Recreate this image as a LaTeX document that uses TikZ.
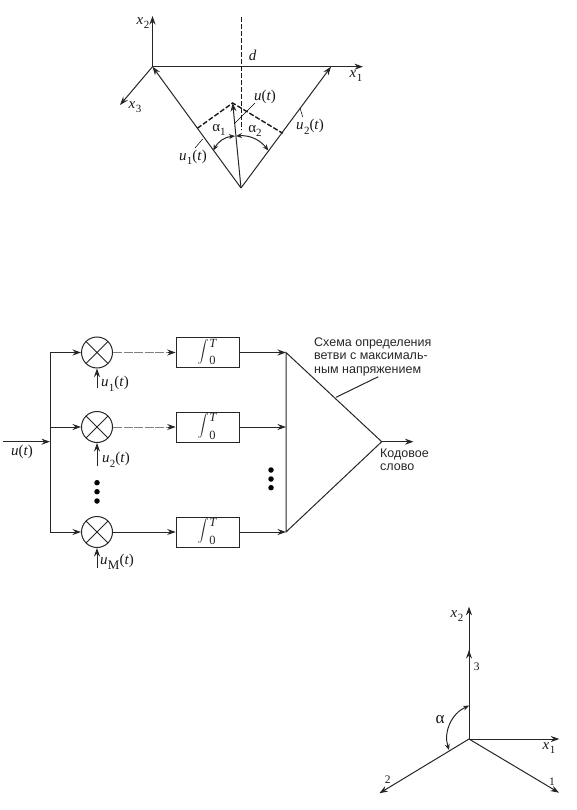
\documentclass[tikz,border=0pt]{standalone}
\usepackage{fontspec}
\setmainfont{Liberation Serif}
\newfontfamily\ruslabel{Liberation Sans}
\usetikzlibrary{arrows.meta,calc}
\newcommand{\subsz}{\fontsize{11}{12}\selectfont}
\newcommand{\symb}[2]{\textit{#1}\kern0.03em\raisebox{-0.3em}{\subsz #2}}
\newcommand{\intsym}{\smash{\fontsize{12.5}{14}\selectfont\raisebox{-2.7pt}{\scalebox{1.12}{$\displaystyle\int$}}\kern0.5pt\rlap{\raisebox{5.5pt}{\textit{T}}}\raisebox{-12pt}{0}\kern2pt}}
\tikzset{
  x=1pt,y=-1pt,
  line/.style={line width=1pt,black!85},
  arr/.style={line,-{Stealth[length=8.5pt,width=6pt]}},
  thinline/.style={line width=0.5pt,black!50,dash pattern=on 9pt off 1.5pt},
  dash2/.style={line width=1.4pt,black!90,dash pattern=on 5pt off 2pt},
  twoarr/.style={line,{Stealth[length=6pt,width=5pt]}-{Stealth[length=6pt,width=5pt]}},
  lab/.style={inner sep=0pt,font=\fontsize{15}{17}\selectfont,black!90},
  num/.style={inner sep=0pt,font=\fontsize{11.5}{13}\selectfont,black!90},
  rus/.style={inner sep=0pt,anchor=base west,font=\ruslabel\fontsize{12.5}{14}\selectfont,black!85},
  mixer/.style={circle,draw,line width=1pt,black!85,minimum size=31pt,inner sep=0pt,
    path picture={\draw[line width=0.8pt,black!85]
      (path picture bounding box.north west)--(path picture bounding box.south east)
      (path picture bounding box.north east)--(path picture bounding box.south west);}},
  intbox/.style={draw,line width=1pt,black!85,minimum width=63pt,minimum height=30pt,inner sep=0pt,fill=white},
  bigdot/.style={circle,fill=black,minimum size=5.5pt,inner sep=0pt},
}
\begin{document}
\begin{tikzpicture}
\useasboundingbox (0,0) rectangle (576,810);
% ---- top figure
\coordinate (O) at (152.5,66.7);
\coordinate (x2t) at (152.5,16);
\coordinate (x1t) at (363,66.7);
\coordinate (x3t) at (120,105);
\coordinate (A) at (241,188);
\coordinate (U2) at (331,66.7);
\coordinate (Ut) at (232.7,103);
\coordinate (dt) at (241.7,17);
\coordinate (db) at (241.7,130);
\coordinate (P1) at (197.3,128.3);
\coordinate (P2) at (282.7,133.3);
\coordinate (a1a) at (213.3,150.5);
\coordinate (a1b) at (235,136);
\coordinate (a2a) at (268.3,150.5);
\coordinate (a2b) at (236,136);
\draw[arr] (O)--(x2t);
\draw[arr] (O)--(x1t);
\draw[arr] (O)--(x3t);
\draw[arr] (A)--(O);
\draw[arr] (A)--(U2);
\draw[arr] (A)--(Ut);
\draw[dash2] (dt)--(db);
\draw[dash2] (P1)--(Ut)--(P2);
\draw[twoarr] (a1a) to[bend left=28] (a1b);
\draw[twoarr] (a2a) to[bend right=28] (a2b);
\coordinate (l1a) at (234,124); \coordinate (l1b) at (255,103);
\coordinate (l2a) at (195,148); \coordinate (l2b) at (202.7,139);
\coordinate (l3a) at (300,108); \coordinate (l3b) at (302.7,117);
\draw[line width=0.5pt] (l1a)--(l1b) (l2a)--(l2b) (l3a)--(l3b);
\node[lab] (tx2) at (143,23) {\symb{x}{2}};
\node[lab] (td) at (252.7,55) {\textit{d}};
\node[lab] (tx1) at (356,76) {\symb{x}{1}};
\node[lab] (tx3) at (135,107) {\symb{x}{3}};
\node[lab] (tu) at (265,97) {\textit{u}(\textit{t})};
\node[lab] (ta1) at (219,130) {α\raisebox{-0.3em}{\subsz 1}};
\node[lab] (ta2) at (255,131) {α\raisebox{-0.3em}{\subsz 2}};
\node[lab] (tu1) at (193,157.5) {\symb{u}{1}(\textit{t})};
\node[lab] (tu2) at (310,127) {\symb{u}{2}(\textit{t})};
% ---- block diagram
\coordinate (in) at (3,441.7);
\coordinate (bus) at (50,441.7);
\coordinate (busT) at (50,352.5);
\coordinate (busM) at (50,427);
\coordinate (busB) at (50,532);
\node[mixer] (m1) at (97,352.5) {};
\node[mixer] (m2) at (97,427) {};
\node[mixer] (m3) at (97,532) {};
\node[intbox] (i1) at (207.7,352.5) {\intsym};
\node[intbox] (i2) at (207.7,427) {\intsym};
\node[intbox] (i3) at (207.7,532) {\intsym};
\coordinate (T1) at (286,352.5);
\coordinate (T2) at (286,427);
\coordinate (T3) at (286,532);
\coordinate (Tx) at (381.7,441.7);
\coordinate (out) at (413.5,441.7);
\coordinate (v1) at (97,388);
\coordinate (v2) at (97,465.7);
\coordinate (v3) at (97,568);
\coordinate (h1) at (168,352.5);
\coordinate (h2) at (168,427);
\draw[arr] (in)--(bus);
\draw[line] (busT)--(busB);
\draw[arr] (busT)--(m1.west);
\draw[arr] (busM)--(m2.west);
\draw[arr] (busB)--(m3.west);
\draw[arr] (v1)--(m1.south);
\draw[arr] (v2)--(m2.south);
\draw[arr] (v3)--(m3.south);
\draw[thinline] (m1.east)--(h1);
\draw[thinline] (m2.east)--(h2);
\draw[arr] (h1)--(i1.west);
\draw[arr] (h2)--(i2.west);
\draw[arr] (m3.east)--(i3.west);
\draw[arr] (i1.east)--(T1);
\draw[arr] (i2.east)--(T2);
\draw[arr] (i3.east)--(T3);
\draw[line,line join=miter] (T1)--(T3)--(Tx)--cycle;
\draw[arr] (Tx)--(out);
\coordinate (lda) at (336,397.3);
\coordinate (ldb) at (378.3,376.7);
\draw[line] (lda)--(ldb);
\foreach \n/\xx/\yy in {a/97/482.7,b/97/491.7,c/97/501,d/271/470,e/271/479,f/271/487.7}
  \node[bigdot] (dot\n) at (\xx,\yy) {};
\node[lab] (lu) at (22,451.7) {\textit{u}(\textit{t})};
\node[lab] (lu1) at (115,384) {\symb{u}{1}(\textit{t})};
\node[lab] (lu2) at (116,460) {\symb{u}{2}(\textit{t})};
\node[lab] (luM) at (117,561.7) {\textit{u}\kern0.03em\raisebox{-0.3em}{\fontsize{13}{14}\selectfont M}(\textit{t})};
\node[rus] (r1) at (314,346.7) {Схема определения};
\node[rus] (r2) at (314,359.7) {ветви с максималь-};
\node[rus] (r3) at (314,373) {ным напряжением};
\node[rus] (k1) at (380,457.3) {Кодовое};
\node[rus] (k2) at (380,470.7) {слово};
% ---- bottom right figure
\coordinate (C) at (469,739);
\coordinate (c2) at (469,606.7);
\coordinate (c3) at (469,650);
\coordinate (c1) at (559.3,739);
\coordinate (s1) at (559,792.7);
\coordinate (s2) at (379.3,793.3);
\coordinate (b1) at (449,750);
\coordinate (b2) at (469,705.7);
\draw[arr] (C)--(c2);
\draw[arr] (C)--(c3);
\draw[arr] (C)--(c1);
\draw[arr] (C)--(s1);
\draw[arr] (C)--(s2);
\draw[twoarr] (b1) to[bend left=42] (b2);
\node[lab] (bx2) at (457,616) {\symb{x}{2}};
\node[num] (b3) at (476.7,667) {3};
\node[lab,font=\fontsize{17}{19}\selectfont] (ba) at (440,720) {α};
\node[lab] (bx1) at (549,748) {\symb{x}{1}};
\node[num] (b1l) at (552,781.7) {1};
\node[num] (b2l) at (387.7,780) {2};
\end{tikzpicture}
\end{document}
